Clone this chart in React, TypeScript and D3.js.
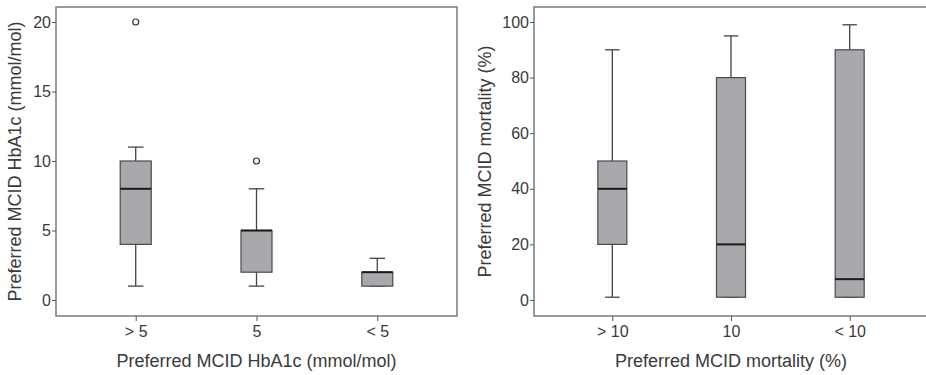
import React, { useEffect, useRef } from 'react'
import * as d3 from 'd3'

// left panel: HbA1c
const hbaCategories = ['> 5', '5', '< 5']
const hbaLow = [1, 1, 1]
const hbaQ1 = [4, 2, 1]
const hbaMedian = [8, 5, 2]
const hbaQ3 = [10, 5, 2]
const hbaHigh = [11, 8, 3]
const hbaOutliers = [[20], [10], []]
const hbaTicks = [0, 5, 10, 15, 20]

// right panel: mortality
const mortCategories = ['> 10', '10', '< 10']
const mortLow = [1, 1, 1]
const mortQ1 = [20, 1, 1]
const mortMedian = [40, 20, 7.5]
const mortQ3 = [50, 80, 90]
const mortHigh = [90, 95, 99]
const mortOutliers = [[], [], []]
const mortTicks = [0, 20, 40, 60, 80, 100]

const textColor = '#3a3a3a'
const tickFont = '"Liberation Sans", Arial, sans-serif'
const titleFont = '"Liberation Sans", Arial, sans-serif'

function drawPanel(svg, opts) {
  const { x0, x1, top, bottom, yMax, cats, low, q1, med, q3, high, outliers, ticks, title, boxW, titleOffset } = opts

  var x = d3.scalePoint().domain(cats).range([x0, x1]).padding(0.66)
  var y = d3.scaleLinear().domain([0, yMax]).range([300, 22])

  var g = svg.append('g')

  // frame
  g.append('rect')
    .attr('x', x0).attr('y', top)
    .attr('width', x1 - x0).attr('height', bottom - top)
    .attr('fill', 'white')
    .attr('stroke', '#7a7a7a')
    .attr('stroke-width', 1.5)

  // y axis ticks + labels
  var yAxis = g.append('g').attr('transform', 'translate(' + x0 + ',0)')
    .call(d3.axisLeft(y).tickValues(ticks).tickSize(4).tickPadding(1).tickFormat(d3.format('d')))
  yAxis.select('.domain').remove()
  yAxis.selectAll('line').attr('stroke', '#555')
  yAxis.selectAll('text').attr('fill', textColor).attr('font-size', 16).attr('font-family', tickFont)

  // x axis ticks + labels
  var xAxis = g.append('g').attr('transform', 'translate(0,' + bottom + ')')
    .call(d3.axisBottom(x).tickSize(5).tickPadding(5))
  xAxis.select('.domain').remove()
  xAxis.selectAll('line').attr('stroke', '#555')
  xAxis.selectAll('text').attr('fill', textColor).attr('font-size', 16).attr('font-family', tickFont)

  var data = cats.map((c, i) => ({ c, low: low[i], q1: q1[i], med: med[i], q3: q3[i], high: high[i], out: outliers[i] }))

  var box = g.selectAll('.box').data(data).enter().append('g')

  // whiskers
  box.append('line')
    .attr('x1', d => x(d.c)).attr('x2', d => x(d.c))
    .attr('y1', d => y(d.low)).attr('y2', d => y(d.q1))
    .attr('stroke', '#444').attr('stroke-width', 1.3)
  box.append('line')
    .attr('x1', d => x(d.c)).attr('x2', d => x(d.c))
    .attr('y1', d => y(d.q3)).attr('y2', d => y(d.high))
    .attr('stroke', '#444').attr('stroke-width', 1.3)
  box.append('line')
    .attr('x1', d => x(d.c) - boxW / 4).attr('x2', d => x(d.c) + boxW / 4)
    .attr('y1', d => y(d.low)).attr('y2', d => y(d.low))
    .attr('stroke', '#444').attr('stroke-width', 1.3)
  box.append('line')
    .attr('x1', d => x(d.c) - boxW / 4).attr('x2', d => x(d.c) + boxW / 4)
    .attr('y1', d => y(d.high)).attr('y2', d => y(d.high))
    .attr('stroke', '#444').attr('stroke-width', 1.3)

  // box
  box.append('rect')
    .attr('x', d => x(d.c) - boxW / 2)
    .attr('y', d => y(d.q3))
    .attr('width', boxW)
    .attr('height', d => y(d.q1) - y(d.q3))
    .attr('fill', '#a8a9ac')
    .attr('stroke', '#4a4a4a')
    .attr('stroke-width', 1.2)

  // median
  box.append('line')
    .attr('x1', d => x(d.c) - boxW / 2).attr('x2', d => x(d.c) + boxW / 2)
    .attr('y1', d => y(d.med)).attr('y2', d => y(d.med))
    .attr('stroke', '#1a1a1a').attr('stroke-width', 2)

  // outliers
  box.selectAll('circle').data(d => d.out.map(v => ({ c: d.c, v }))).enter().append('circle')
    .attr('cx', d => x(d.c)).attr('cy', d => y(d.v)).attr('r', 3)
    .attr('fill', 'white').attr('stroke', '#333').attr('stroke-width', 1.2)

  // titles
  g.append('text')
    .attr('x', (x0 + x1) / 2).attr('y', 367)
    .attr('text-anchor', 'middle')
    .attr('font-family', titleFont).attr('font-size', 18)
    .attr('fill', textColor)
    .text(title)
  g.append('text')
    .attr('transform', 'translate(' + (x0 - titleOffset) + ',' + (top + bottom) / 2 + ') rotate(-90)')
    .attr('text-anchor', 'middle')
    .attr('font-family', titleFont).attr('font-size', 18)
    .attr('fill', textColor)
    .text(title)
}

export default function App() {
  const ref = useRef(null)

  useEffect(() => {
    if (!ref.current) return
    var svg = d3.select(ref.current)
    svg.selectAll('*').remove()

    drawPanel(svg, {
      x0: 56, x1: 457, top: 7, bottom: 316, yMax: 20,
      cats: hbaCategories, low: hbaLow, q1: hbaQ1, med: hbaMedian, q3: hbaQ3, high: hbaHigh,
      outliers: hbaOutliers, ticks: hbaTicks, title: 'Preferred MCID HbA1c (mmol/mol)', boxW: 31, titleOffset: 35
    })
    drawPanel(svg, {
      x0: 534, x1: 928, top: 7, bottom: 316, yMax: 100,
      cats: mortCategories, low: mortLow, q1: mortQ1, med: mortMedian, q3: mortQ3, high: mortHigh,
      outliers: mortOutliers, ticks: mortTicks, title: 'Preferred MCID mortality (%)', boxW: 29, titleOffset: 43
    })
  }, [])

  return (
    <svg ref={ref} width={926} height={375}
      style={{ position: 'absolute', left: 0, top: 0, background: 'white' }} />
  )
}
